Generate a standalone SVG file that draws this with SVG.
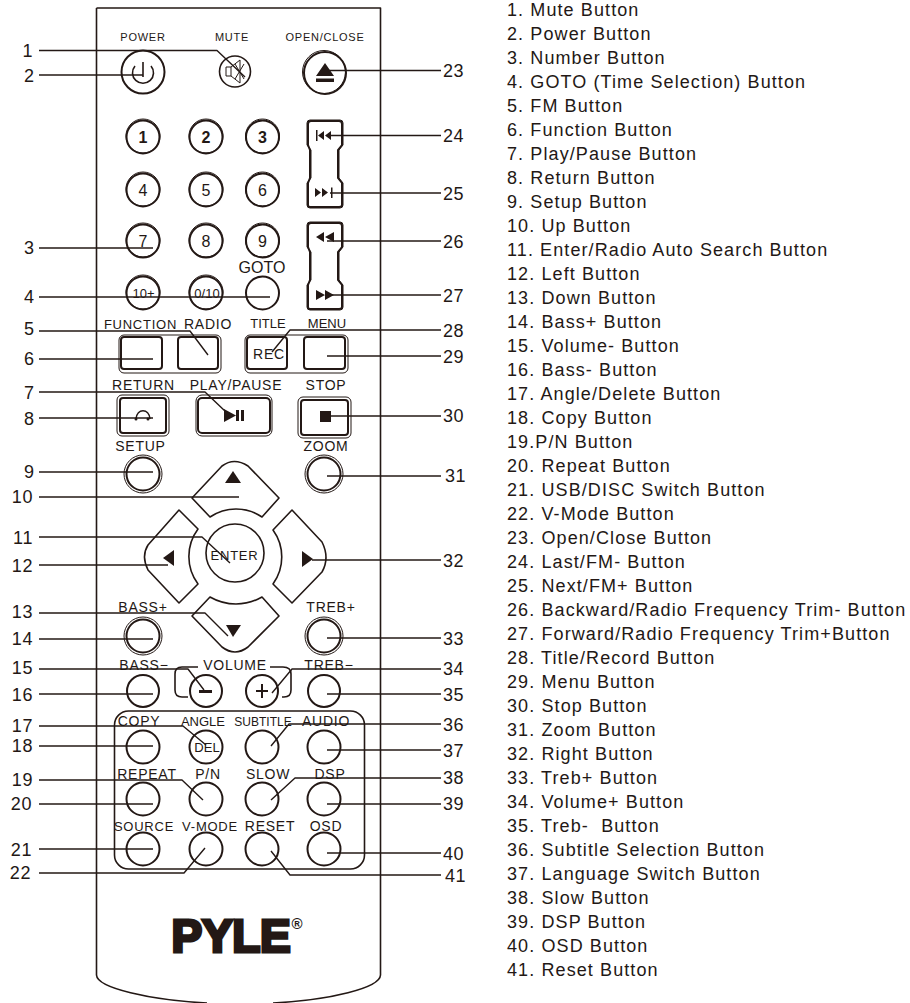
<svg xmlns="http://www.w3.org/2000/svg" width="910" height="1003" viewBox="0 0 910 1003">
<style>
text{font-family:"Liberation Sans",Arial,sans-serif;fill:#231815}
.n{font-size:18px;letter-spacing:.6px;text-anchor:end}
.r{font-size:18px;letter-spacing:.6px}
.l{font-size:18px;letter-spacing:1.100px;white-space:pre}
.k{font-size:11px;letter-spacing:.75px;text-anchor:middle}
.b{font-size:14px;letter-spacing:.75px;text-anchor:middle}
.e{font-size:13px;letter-spacing:.75px;text-anchor:middle}
.d{font-size:16px;text-anchor:middle}
.q{font-size:13px;text-anchor:middle}
.s{fill:none;stroke:#231815;stroke-width:1.6;stroke-linejoin:round}
.t{fill:none;stroke:#231815;stroke-width:1}
.h{fill:none;stroke:#231815;stroke-width:2}
.f{fill:#231815}
</style>
<g id="remote-body"><path class="s" d="M96.500 8H380.500V975C380 988 330 1000 273 1003M96.500 8V975C97 988 150 1000 207 1003"/></g>
<g id="btn-power"><circle class="h" cx="143" cy="72" r="21.500"/><path class="s" d="M143 62V77M135 66A10.500 10.500 0 1 0 151 66"/><text class="k" x="143" y="41">POWER</text></g>
<g id="btn-mute"><circle class="s" cx="235" cy="71.500" r="15.500"/><path class="t" d="M226 67H231V76H226ZM231 67L240 60V83L231 76M235 64L244 79M244 64L235 79"/><text class="k" x="232" y="41">MUTE</text></g>
<g id="btn-open"><circle class="t" cx="324" cy="72" r="21.500"/><circle class="h" cx="325" cy="73" r="21"/><path class="f" d="M325 63L334 76H316ZM316 78.500H334V82H316Z"/><text class="k" x="325" y="41">OPEN/CLOSE</text></g>
<g id="num-pad">
<g id="btn-1"><circle class="t" cx="143" cy="136" r="17"/><circle class="h" cx="143" cy="137" r="16.500"/><text class="d" font-weight="bold" x="143" y="142.500">1</text></g>
<g id="btn-2"><circle class="t" cx="206" cy="136" r="17"/><circle class="h" cx="206" cy="137" r="16.500"/><text class="d" font-weight="bold" x="206" y="142.500">2</text></g>
<g id="btn-3"><circle class="t" cx="262.500" cy="136" r="17"/><circle class="h" cx="262.500" cy="137" r="16.500"/><text class="d" font-weight="bold" x="262.500" y="142.500">3</text></g>
<g id="btn-4"><circle class="t" cx="143" cy="189" r="17"/><circle class="h" cx="143" cy="190" r="16.500"/><text class="d" x="143" y="196">4</text></g>
<g id="btn-5"><circle class="t" cx="206" cy="189" r="17"/><circle class="h" cx="206" cy="190" r="16.500"/><text class="d" x="206" y="196">5</text></g>
<g id="btn-6"><circle class="t" cx="262.500" cy="189" r="17"/><circle class="h" cx="262.500" cy="190" r="16.500"/><text class="d" x="262.500" y="196">6</text></g>
<g id="btn-7"><circle class="t" cx="143" cy="240" r="17"/><circle class="h" cx="143" cy="241" r="16.500"/><text class="d" x="143" y="246.500">7</text></g>
<g id="btn-8"><circle class="t" cx="206" cy="240" r="17"/><circle class="h" cx="206" cy="241" r="16.500"/><text class="d" x="206" y="246.500">8</text></g>
<g id="btn-9"><circle class="t" cx="262.500" cy="240" r="17"/><circle class="h" cx="262.500" cy="241" r="16.500"/><text class="d" x="262.500" y="246.500">9</text></g>
<g id="btn-10plus"><circle class="t" cx="143" cy="292" r="17"/><circle class="h" cx="143" cy="293" r="16.500"/><text class="q" x="143.500" y="298">10+</text></g>
<g id="btn-0-10"><circle class="t" cx="206" cy="292" r="17"/><circle class="h" cx="206" cy="293" r="16.500"/><text class="q" x="207" y="298">0/10</text></g>
<g id="btn-goto"><circle class="h" cx="262.500" cy="293" r="16.500"/><text class="d" x="262" y="273">GOTO</text></g>
</g>
<g id="btn-skip"><path class="t" d="M310 120H340Q343 120 343 123V145L339 150V178L343 183V205Q343 208 340 208H310Q307 208 307 205V183L311 178V150L307 145V123Q307 120 310 120Z"/><path class="h" d="M311 121H339Q342 121 342 124V145L338 150V178L342 183V205Q342 207 339 207H310Q308 207 308 205V183L310 178V150L308 145V124Q308 121 311 121Z"/><path class="f" d="M316 130H317.500V141H316ZM318 135.500L324 131V140ZM325 135.500L331 131V140ZM315 188L321 192.500L315 197ZM322 188L328 192.500L322 197ZM331 187.500H332.500V198H331Z"/></g>
<g id="btn-seek"><path class="t" d="M310 222H340Q343 222 343 225V247L339 252V280L343 285V307Q343 310 340 310H310Q307 310 307 307V285L311 280V252L307 247V225Q307 222 310 222Z"/><path class="h" d="M311 223H339Q342 223 342 226V247L338 252V280L342 285V307Q342 309 339 309H310Q308 309 308 307V285L310 280V252L308 247V226Q308 223 311 223Z"/><path class="f" d="M316 237L324 232V242ZM325 237L334 232V242ZM316 290L325 295L316 300ZM325 290L334 295L325 300Z"/></g>
<g id="btn-function-radio"><rect class="t" x="119" y="335" width="102" height="38" rx="5"/><rect class="h" x="121" y="337" width="41" height="32" rx="3"/><rect class="h" x="178" y="337" width="40" height="32" rx="3"/><text class="e" x="140.500" y="329">FUNCTION</text><text class="b" x="208" y="329">RADIO</text></g>
<g id="btn-title-menu"><rect class="t" x="245" y="335" width="103" height="38" rx="5"/><rect class="h" x="247" y="337" width="40" height="32" rx="3"/><rect class="h" x="304" y="337" width="41" height="32" rx="3"/><text class="q" x="268" y="328">TITLE</text><text class="q" x="327" y="328">MENU</text><text class="b" x="269" y="359">REC</text></g>
<g id="btn-return"><rect class="t" x="117" y="395" width="52" height="41" rx="5"/><rect class="h" x="120" y="398" width="46" height="35" rx="3"/><path class="s" d="M136 419C137 408 149 408 150 419"/><circle class="f" cx="136" cy="419" r="1.500"/><circle class="f" cx="148" cy="419" r="1.500"/><text class="b" x="143.500" y="390">RETURN</text></g>
<g id="btn-play"><rect class="t" x="196" y="395" width="76" height="41" rx="6"/><rect class="h" x="198" y="398" width="72" height="35" rx="4"/><path class="f" d="M224 409L236 415.500L224 422ZM236 410H239V421H236ZM241 410H244V421H241Z"/><text class="b" x="236" y="390">PLAY/PAUSE</text></g>
<g id="btn-stop"><rect class="t" x="298" y="397" width="53" height="41" rx="5"/><rect class="h" x="301" y="400" width="47" height="35" rx="3"/><rect class="f" x="320" y="411" width="11" height="11"/><text class="b" x="326" y="390">STOP</text></g>
<g id="btn-setup"><circle class="t" cx="143" cy="474" r="19"/><circle class="h" cx="143" cy="474" r="16.500"/><text class="b" x="140.500" y="451">SETUP</text></g>
<g id="btn-zoom"><circle class="t" cx="324" cy="474" r="19"/><circle class="h" cx="324" cy="474" r="16.500"/><text class="b" x="326" y="451">ZOOM</text></g>
<g id="dpad">
<g id="btn-up"><path class="s" d="M192 498L222 466Q234 457 248 466L279 498L262 517A46 46 0 0 0 210 517Z"/><path class="f" d="M233 471L241 483H225Z"/></g>
<g id="btn-left"><path class="s" d="M179 510L198 529A46 46 0 0 0 198 584L179 603L148 570Q141 556 148 545Z"/><path class="f" d="M174 550V566L163 558Z"/></g>
<g id="btn-right"><path class="s" d="M292 510L273 530A46 46 0 0 1 273 584L292 603L322 572Q330 558 322 542Z"/><path class="f" d="M302 551V567L313 559Z"/></g>
<g id="btn-down"><path class="s" d="M192 616L210 597A52 52 0 0 0 262 597L279 616L248 647Q235 657 222 647Z"/><path class="f" d="M226 625H241L233 637Z"/></g>
<g id="btn-enter"><circle class="s" cx="235" cy="553" r="29"/><text class="e" x="234.500" y="560">ENTER</text></g>
</g>
<g id="btn-bass-plus"><circle class="t" cx="143" cy="636" r="19"/><circle class="h" cx="143" cy="636" r="16.500"/><text class="b" x="143" y="612">BASS+</text></g>
<g id="btn-treb-plus"><circle class="t" cx="324" cy="636" r="19"/><circle class="h" cx="324" cy="636" r="16.500"/><text class="b" x="331" y="612">TREB+</text></g>
<g id="volume"><path class="s" d="M198 667H182Q175 667 175 674V690Q175 697 182 697H188M270 667H283Q291 667 291 674V690Q291 697 284 697H282"/><text class="b" x="235" y="670">VOLUME</text></g>
<g id="btn-bass-minus"><circle class="h" cx="143" cy="691" r="16"/><text class="b" x="144" y="670">BASS−</text></g>
<g id="btn-vol-minus"><circle class="h" cx="206" cy="691" r="16"/><rect class="f" x="199" y="690" width="13" height="3"/></g>
<g id="btn-vol-plus"><circle class="h" cx="262" cy="691" r="16"/><path class="f" d="M256 690H261V684H263V690H268V692H263V698H261V692H256Z"/></g>
<g id="btn-treb-minus"><circle class="h" cx="324" cy="691" r="16"/><text class="b" x="329" y="670">TREB−</text></g>
<g id="lower-panel"><rect class="s" x="114.500" y="711" width="250" height="158" rx="14"/></g>
<g id="btn-copy"><circle class="h" cx="143" cy="747" r="16.500"/><text class="b" x="139" y="726">COPY</text></g>
<g id="btn-angle"><circle class="h" cx="206" cy="747" r="16.500"/><text class="q" x="203" y="726">ANGLE</text><text class="q" x="207" y="752">DEL</text></g>
<g id="btn-subtitle"><circle class="h" cx="262" cy="747" r="16.500"/><text class="q" style="font-size:12px" x="263" y="726">SUBTITLE</text></g>
<g id="btn-audio"><circle class="h" cx="324" cy="747" r="16.500"/><text class="b" x="326" y="726">AUDIO</text></g>
<g id="btn-repeat"><circle class="h" cx="143" cy="799" r="16.500"/><text class="b" x="147" y="779">REPEAT</text></g>
<g id="btn-pn"><circle class="h" cx="206" cy="799" r="16.500"/><text class="b" x="208" y="779">P/N</text></g>
<g id="btn-slow"><circle class="h" cx="262" cy="799" r="16.500"/><text class="b" x="268" y="779">SLOW</text></g>
<g id="btn-dsp"><circle class="h" cx="324" cy="799" r="16.500"/><text class="b" x="330" y="779">DSP</text></g>
<g id="btn-source"><circle class="h" cx="143" cy="849" r="16.500"/><text class="e" x="144" y="831">SOURCE</text></g>
<g id="btn-vmode"><circle class="h" cx="206" cy="849" r="16.500"/><text class="e" x="210" y="831">V-MODE</text></g>
<g id="btn-reset"><circle class="h" cx="262" cy="849" r="16.500"/><text class="b" x="270" y="831">RESET</text></g>
<g id="btn-osd"><circle class="h" cx="324" cy="849" r="16.500"/><text class="b" x="326" y="831">OSD</text></g>
<g id="logo"><text x="171.500" y="951.500" font-size="46" font-weight="bold" stroke="#231815" stroke-width="3.200" letter-spacing="-.300">PYLE<tspan dy="-23" font-size="15" stroke="none" stroke-width="0" letter-spacing="0" dx="1">®</tspan></text></g>
<g id="connectors" class="s" style="stroke-width:1.400">
<path d="M39 50.500H217L245 77"/><path d="M39 75H143"/><path d="M441 70.500H328"/><path d="M441 135.500H330"/><path d="M441 193H330"/><path d="M441 241H327"/><path d="M441 295H330"/>
<path d="M39 248H153"/><path d="M39 297H270"/><path d="M39 331H190L208 355"/><path d="M441 330H290L272 352"/><path d="M39 359H153"/><path d="M441 356H327"/>
<path d="M39 392H205L226 412"/><path d="M39 418H153"/><path d="M441 416H330"/><path d="M39 472H153"/><path d="M39 497H239"/><path d="M441 476H327"/>
<path d="M39 537H202L230 563"/><path d="M39 565H168"/><path d="M441 560H312"/><path d="M39 613H205L228 636"/><path d="M39 639H153"/><path d="M441 638H327"/>
<path d="M39 669H188L204 690"/><path d="M441 669H292L272 693"/><path d="M39 694H153"/><path d="M441 694H327"/>
<path d="M39 726H183L206 745"/><path d="M39 746H153"/><path d="M441 724H289L271 746"/><path d="M441 750H327"/>
<path d="M39 780H182L203 800"/><path d="M39 804H153"/><path d="M441 778H295L271 800"/><path d="M441 804H327"/>
<path d="M39 849H153"/><path d="M39 873H184L205 848"/><path d="M441 853H327"/><path d="M441 875H290L271 851"/>
</g>
<g id="callouts-left">
<text class="n" x="33" y="57">1</text><text class="n" x="34.500" y="82">2</text><text class="n" x="34.500" y="254">3</text><text class="n" x="34.500" y="303">4</text><text class="n" x="34.500" y="335">5</text><text class="n" x="34.500" y="365">6</text><text class="n" x="34.500" y="399">7</text><text class="n" x="34.500" y="425">8</text><text class="n" x="34.500" y="478">9</text><text class="n" x="33" y="503">10</text><text class="n" x="33" y="544">11</text><text class="n" x="33" y="572">12</text><text class="n" x="33" y="618">13</text><text class="n" x="33" y="645">14</text><text class="n" x="33" y="674">15</text><text class="n" x="33" y="701">16</text><text class="n" x="33" y="732">17</text><text class="n" x="33" y="752">18</text><text class="n" x="33" y="786">19</text><text class="n" x="32" y="810">20</text><text class="n" x="32" y="856">21</text><text class="n" x="31" y="879">22</text>
</g>
<g id="callouts-right">
<text class="r" x="443" y="77">23</text><text class="r" x="443" y="142">24</text><text class="r" x="443" y="200">25</text><text class="r" x="443" y="248">26</text><text class="r" x="443" y="302">27</text><text class="r" x="443" y="337">28</text><text class="r" x="443" y="363">29</text><text class="r" x="443" y="422">30</text><text class="r" x="445" y="482">31</text><text class="r" x="443" y="567">32</text><text class="r" x="443" y="645">33</text><text class="r" x="443" y="675">34</text><text class="r" x="443" y="701">35</text><text class="r" x="443" y="731">36</text><text class="r" x="443" y="757">37</text><text class="r" x="443" y="784">38</text><text class="r" x="443" y="810">39</text><text class="r" x="443" y="860">40</text><text class="r" x="445" y="882">41</text>
</g>
<g id="legend">
<text class="l" x="507" y="16">1. Mute Button</text><text class="l" x="507" y="40">2. Power Button</text><text class="l" x="507" y="64">3. Number Button</text><text class="l" x="507" y="88">4. GOTO (Time Selection) Button</text><text class="l" x="507" y="112">5. FM Button</text><text class="l" x="507" y="136">6. Function Button</text><text class="l" x="507" y="160">7. Play/Pause Button</text><text class="l" x="507" y="184">8. Return Button</text><text class="l" x="507" y="208">9. Setup Button</text><text class="l" x="507" y="232">10. Up Button</text><text class="l" x="507" y="256">11. Enter/Radio Auto Search Button</text><text class="l" x="507" y="280">12. Left Button</text><text class="l" x="507" y="304">13. Down Button</text><text class="l" x="507" y="328">14. Bass+ Button</text><text class="l" x="507" y="352">15. Volume- Button</text><text class="l" x="507" y="376">16. Bass- Button</text><text class="l" x="507" y="400">17. Angle/Delete Button</text><text class="l" x="507" y="424">18. Copy Button</text><text class="l" x="507" y="448">19.P/N Button</text><text class="l" x="507" y="472">20. Repeat Button</text><text class="l" x="507" y="496">21. USB/DISC Switch Button</text><text class="l" x="507" y="520">22. V-Mode Button</text><text class="l" x="507" y="544">23. Open/Close Button</text><text class="l" x="507" y="568">24. Last/FM- Button</text><text class="l" x="507" y="592">25. Next/FM+ Button</text><text class="l" x="507" y="616">26. Backward/Radio Frequency Trim- Button</text><text class="l" x="507" y="640">27. Forward/Radio Frequency Trim+Button</text><text class="l" x="507" y="664">28. Title/Record Button</text><text class="l" x="507" y="688">29. Menu Button</text><text class="l" x="507" y="712">30. Stop Button</text><text class="l" x="507" y="736">31. Zoom Button</text><text class="l" x="507" y="760">32. Right Button</text><text class="l" x="507" y="784">33. Treb+ Button</text><text class="l" x="507" y="808">34. Volume+ Button</text><text class="l" x="507" y="832">35. Treb-  Button</text><text class="l" x="507" y="856">36. Subtitle Selection Button</text><text class="l" x="507" y="880">37. Language Switch Button</text><text class="l" x="507" y="904">38. Slow Button</text><text class="l" x="507" y="928">39. DSP Button</text><text class="l" x="507" y="952">40. OSD Button</text><text class="l" x="507" y="976">41. Reset Button</text>
</g>
</svg>
